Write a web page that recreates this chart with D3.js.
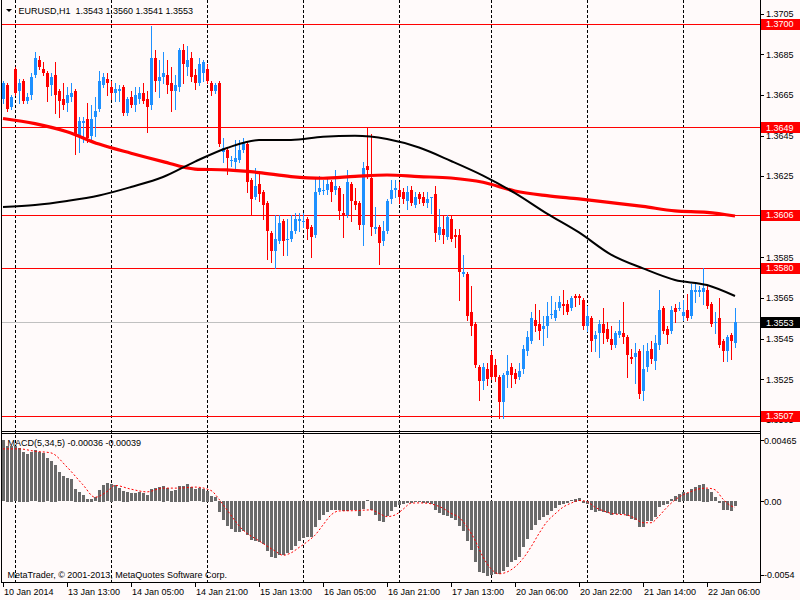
<!DOCTYPE html>
<html><head><meta charset="utf-8">
<script src="https://cdn.jsdelivr.net/npm/d3@7"></script>
<style>
html,body{margin:0;padding:0;background:#fffafa;}
svg{display:block;}
text{font-family:"Liberation Sans",Arial,sans-serif;font-size:9px;fill:#000;}
</style>
</head><body>
<svg id="c" width="800" height="600"></svg>
<script>
const headerText = "EURUSD,H1  1.3543 1.3560 1.3541 1.3553";
const macdHeader = "MACD(5,34,5) -0.00036 -0.00039";
const copyright = "MetaTrader, \u00a9 2001-2013, MetaQuotes Software Corp.";
const timeLabels = ["10 Jan 2014","13 Jan 13:00","14 Jan 05:00","14 Jan 21:00","15 Jan 13:00","16 Jan 05:00","16 Jan 21:00","17 Jan 13:00","20 Jan 06:00","20 Jan 22:00","21 Jan 14:00","22 Jan 06:00"];
const timeLabelIdx = [0,16,32,48,64,80,96,112,128,144,160,176];
const gridDayIdx = [3,27,51,75,99,122,146,170];
const priceTicks = [1.3705,1.3685,1.3665,1.3645,1.3625,1.3605,1.3585,1.3565,1.3545,1.3525,1.3505];
const levelLines = [1.3700,1.3649,1.3606,1.3580,1.3507];
const bidPrice = 1.3553;
const macdTicks = [0.00465,0.00,-0.0054];
const macdTickLabels = ["0.00465","0.00","-0.0054"];

const open = [1.3663,1.3670,1.3659,1.3678,1.3667,1.3672,1.3662,1.3665,1.3675,1.3682,
1.3678,1.3676,1.3670,1.3675,1.3667,1.3663,1.3661,1.3664,1.3667,1.3645,
1.3651,1.3653,1.3645,1.3654,1.3658,1.3670,1.3673,1.3669,1.3666,1.3667,
1.3669,1.3656,1.3664,1.3660,1.3663,1.3666,1.3663,1.3660,1.3683,1.3672,
1.3674,1.3675,1.3671,1.3667,1.3669,1.3687,1.3679,1.3683,1.3675,1.3671,
1.3676,1.3678,1.3671,1.3667,1.3671,1.3637,1.3638,1.3633,1.3632,1.3633,
1.3638,1.3641,1.3623,1.3615,1.3621,1.3617,1.3612,1.3597,1.3588,1.3593,
1.3603,1.3594,1.3594,1.3598,1.3603,1.3603,1.3604,1.3600,1.3596,1.3617,
1.3618,1.3618,1.3622,1.3618,1.3619,1.3607,1.3606,1.3621,1.3613,1.3612,
1.3601,1.3630,1.3624,1.3599,1.3600,1.3593,1.3598,1.3614,1.3618,1.3618,
1.3617,1.3613,1.3618,1.3611,1.3616,1.3615,1.3612,1.3615,1.3616,1.3596,
1.3599,1.3595,1.3604,1.3596,1.3596,1.3577,1.3577,1.3558,1.3552,1.3531,
1.3524,1.3530,1.3537,1.3532,1.3526,1.3514,1.3527,1.3531,1.3528,1.3526,
1.3530,1.3539,1.3544,1.3554,1.3552,1.3550,1.3551,1.3557,1.3555,1.3560,
1.3562,1.3562,1.3560,1.3566,1.3566,1.3564,1.3551,1.3555,1.3545,1.3548,
1.3552,1.3550,1.3545,1.3542,1.3547,1.3548,1.3546,1.3536,1.3536,1.3539,
1.3519,1.3531,1.3540,1.3534,1.3542,1.3560,1.3550,1.3549,1.3560,1.3560,
1.3556,1.3559,1.3556,1.3568,1.3568,1.3568,1.3569,1.3562,1.3553,1.3555,
1.3544,1.3539,1.3547,1.3543];
const high = [1.3672,1.3671,1.3665,1.3679,1.3673,1.3673,1.3666,1.3676,1.3686,1.3684,
1.3681,1.3677,1.3676,1.3681,1.3668,1.3671,1.3669,1.3671,1.3668,1.3654,
1.3654,1.3661,1.3660,1.3664,1.3677,1.3676,1.3676,1.3672,1.3671,1.3670,
1.3670,1.3664,1.3667,1.3669,1.3669,1.3671,1.3667,1.3699,1.3687,1.3682,
1.3686,1.3682,1.3679,1.3675,1.3688,1.3690,1.3689,1.3686,1.3678,1.3683,
1.3682,1.3680,1.3672,1.3671,1.3672,1.3644,1.3639,1.3635,1.3643,1.3643,
1.3644,1.3642,1.3624,1.3629,1.3627,1.3618,1.3613,1.3598,1.3606,1.3606,
1.3604,1.3604,1.3606,1.3607,1.3607,1.3607,1.3605,1.3601,1.3624,1.3625,
1.3623,1.3624,1.3623,1.3628,1.3620,1.3616,1.3628,1.3622,1.3619,1.3613,
1.3632,1.3649,1.3646,1.3610,1.3601,1.3603,1.3614,1.3623,1.3623,1.3622,
1.3619,1.3620,1.3620,1.3617,1.3617,1.3617,1.3617,1.3615,1.3620,1.3609,
1.3606,1.3606,1.3606,1.3599,1.3599,1.3586,1.3578,1.3571,1.3553,1.3532,
1.3533,1.3533,1.3539,1.3535,1.3527,1.3528,1.3537,1.3533,1.3530,1.3533,
1.3542,1.3549,1.3558,1.3562,1.3559,1.3556,1.3563,1.3566,1.3563,1.3566,
1.3569,1.3564,1.3566,1.3567,1.3567,1.3565,1.3561,1.3556,1.3549,1.3554,
1.3560,1.3553,1.3551,1.3549,1.3554,1.3563,1.3547,1.3540,1.3543,1.3540,
1.3542,1.3543,1.3544,1.3547,1.3569,1.3561,1.3551,1.3561,1.3562,1.3563,
1.3564,1.3567,1.3572,1.3572,1.3571,1.3580,1.3571,1.3563,1.3558,1.3565,
1.3545,1.3547,1.3548,1.3560];
const low = [1.3661,1.3657,1.3658,1.3665,1.3661,1.3661,1.3661,1.3663,1.3674,1.3678,
1.3675,1.3662,1.3665,1.3656,1.3654,1.3658,1.3657,1.3662,1.3636,1.3637,
1.3642,1.3642,1.3643,1.3645,1.3657,1.3669,1.3665,1.3663,1.3662,1.3662,
1.3655,1.3655,1.3659,1.3657,1.3661,1.3661,1.3647,1.3658,1.3667,1.3664,
1.3671,1.3666,1.3657,1.3658,1.3667,1.3671,1.3675,1.3672,1.3668,1.3670,
1.3672,1.3671,1.3665,1.3666,1.3640,1.3632,1.3626,1.3630,1.3628,1.3632,
1.3637,1.3617,1.3606,1.3614,1.3613,1.3604,1.3584,1.3583,1.3580,1.3592,
1.3586,1.3586,1.3593,1.3597,1.3598,1.3600,1.3594,1.3585,1.3595,1.3616,
1.3616,1.3616,1.3613,1.3616,1.3604,1.3595,1.3605,1.3603,1.3609,1.3599,
1.3591,1.3624,1.3596,1.3597,1.3582,1.3591,1.3597,1.3612,1.3615,1.3612,
1.3612,1.3609,1.3611,1.3610,1.3612,1.3611,1.3610,1.3607,1.3593,1.3594,
1.3592,1.3594,1.3593,1.3590,1.3564,1.3576,1.3554,1.3547,1.3531,1.3515,
1.3520,1.3522,1.3525,1.3524,1.3506,1.3506,1.3521,1.3521,1.3523,1.3525,
1.3528,1.3537,1.3543,1.3549,1.3545,1.3542,1.3546,1.3555,1.3554,1.3559,
1.3557,1.3557,1.3559,1.3561,1.3562,1.3550,1.3549,1.3539,1.3539,1.3536,
1.3543,1.3544,1.3540,1.3541,1.3546,1.3543,1.3526,1.3533,1.3523,1.3516,
1.3515,1.3529,1.3533,1.3530,1.3540,1.3548,1.3543,1.3548,1.3553,1.3559,
1.3554,1.3554,1.3555,1.3563,1.3566,1.3562,1.3560,1.3551,1.3548,1.3541,
1.3534,1.3534,1.3535,1.3541];
const close = [1.3671,1.3658,1.3664,1.3666,1.3671,1.3662,1.3664,1.3674,1.3683,1.3679,
1.3676,1.3669,1.3674,1.3665,1.3662,1.3660,1.3665,1.3666,1.3645,1.3652,
1.3652,1.3644,1.3653,1.3657,1.3672,1.3674,1.3671,1.3666,1.3668,1.3668,
1.3656,1.3663,1.3660,1.3665,1.3666,1.3662,1.3659,1.3683,1.3672,1.3674,
1.3676,1.3670,1.3667,1.3670,1.3687,1.3680,1.3682,1.3674,1.3671,1.3680,
1.3681,1.3672,1.3667,1.3670,1.3641,1.3639,1.3634,1.3633,1.3634,1.3638,
1.3642,1.3622,1.3614,1.3620,1.3616,1.3611,1.3598,1.3588,1.3594,1.3602,
1.3593,1.3594,1.3598,1.3604,1.3604,1.3603,1.3599,1.3595,1.3617,1.3619,
1.3618,1.3621,1.3617,1.3620,1.3608,1.3606,1.3622,1.3613,1.3611,1.3601,
1.3629,1.3628,1.3600,1.3600,1.3592,1.3598,1.3613,1.3618,1.3619,1.3615,
1.3614,1.3617,1.3612,1.3615,1.3614,1.3612,1.3614,1.3615,1.3597,1.3600,
1.3596,1.3605,1.3594,1.3595,1.3578,1.3578,1.3556,1.3551,1.3532,1.3524,
1.3531,1.3525,1.3526,1.3526,1.3514,1.3527,1.3529,1.3527,1.3525,1.3529,
1.3540,1.3546,1.3555,1.3551,1.3549,1.3551,1.3556,1.3557,1.3559,1.3563,
1.3561,1.3558,1.3565,1.3565,1.3565,1.3551,1.3556,1.3544,1.3547,1.3552,
1.3548,1.3545,1.3542,1.3548,1.3549,1.3546,1.3537,1.3535,1.3538,1.3518,
1.3530,1.3539,1.3535,1.3543,1.3559,1.3549,1.3547,1.3559,1.3558,1.3560,
1.3558,1.3555,1.3569,1.3569,1.3569,1.3570,1.3561,1.3552,1.3553,1.3542,
1.3539,1.3546,1.3544,1.3553];

const maIdx = [0,8,16,24,32,40,48,56,64,72,80,88,96,104,112,120,128,136,144,152,160,168,176,183];
const maSlow = [1.36534,1.36509,1.36469,1.36408,1.36363,1.36322,1.36285,1.36281,1.36268,1.36248,1.36240,1.36249,1.36256,1.36248,1.36241,1.36220,1.36177,1.36154,1.36138,1.36120,1.36101,1.36079,1.36072,1.36054];
const maFast = [1.36098,1.36108,1.36128,1.36155,1.36197,1.36246,1.36322,1.36389,1.36428,1.36428,1.36444,1.36449,1.36433,1.36391,1.36325,1.36253,1.36167,1.36066,1.35973,1.35864,1.35796,1.35739,1.35714,1.35660];

const macdMain = [0.00410,0.00374,0.00374,0.00370,0.00359,0.00332,0.00320,0.00329,0.00343,0.00334,
0.00325,0.00291,0.00273,0.00246,0.00194,0.00167,0.00156,0.00149,0.00084,0.00066,
0.00044,0.00019,0.00019,0.00028,0.00078,0.00111,0.00123,0.00118,0.00107,0.00089,
0.00073,0.00066,0.00055,0.00055,0.00060,0.00055,0.00042,0.00082,0.00089,0.00096,
0.00105,0.00089,0.00073,0.00078,0.00105,0.00105,0.00118,0.00096,0.00082,0.00087,
0.00084,0.00071,0.00037,0.00028,-0.00075,-0.00125,-0.00170,-0.00188,-0.00208,-0.00208,
-0.00199,-0.00226,-0.00260,-0.00271,-0.00278,-0.00287,-0.00338,-0.00377,-0.00383,-0.00361,
-0.00361,-0.00350,-0.00327,-0.00300,-0.00271,-0.00248,-0.00242,-0.00242,-0.00174,-0.00125,
-0.00091,-0.00071,-0.00062,-0.00057,-0.00062,-0.00069,-0.00069,-0.00062,-0.00057,-0.00098,
-0.00053,0.00008,-0.00062,-0.00091,-0.00136,-0.00143,-0.00102,-0.00069,-0.00042,-0.00025,
-0.00020,-0.00013,-0.00013,-0.00008,-0.00008,-0.00012,-0.00016,-0.00023,-0.00057,-0.00080,
-0.00096,-0.00098,-0.00114,-0.00125,-0.00170,-0.00199,-0.00271,-0.00327,-0.00406,-0.00473,
-0.00485,-0.00500,-0.00496,-0.00489,-0.00489,-0.00466,-0.00439,-0.00406,-0.00395,-0.00372,
-0.00309,-0.00255,-0.00192,-0.00158,-0.00129,-0.00107,-0.00091,-0.00069,-0.00046,-0.00030,
-0.00017,-0.00012,0.00010,0.00017,0.00021,-0.00012,-0.00017,-0.00057,-0.00071,-0.00069,
-0.00075,-0.00080,-0.00091,-0.00087,-0.00084,-0.00084,-0.00098,-0.00120,-0.00125,-0.00176,
-0.00174,-0.00136,-0.00136,-0.00107,-0.00039,-0.00028,-0.00019,0.00015,0.00033,0.00051,
0.00060,0.00055,0.00082,0.00096,0.00107,0.00118,0.00084,0.00060,0.00028,-0.00012,
-0.00057,-0.00062,-0.00069,-0.00036];

const signalIdx = [0,4,8,12,16,20,23,26,28,32,36,40,44,48,52,54,56,60,64,68,70,72,74,76,78,80,82,84,88,92,94,96,98,100,102,104,106,108,110,112,114,116,118,120,122,124,126,128,130,132,134,136,138,140,142,144,146,148,150,152,154,156,158,160,162,164,166,168,170,172,174,176,178,180,182,183];
const signalVal = [0.00352,0.00352,0.00336,0.00325,0.00230,0.00111,0.00028,0.00066,0.00107,0.00082,
0.00064,0.00089,0.00089,0.00096,0.00073,0.00015,-0.00057,-0.00192,-0.00264,-0.00332,
-0.00361,-0.00345,-0.00309,-0.00271,-0.00226,-0.00158,-0.00091,-0.00064,-0.00062,-0.00057,
-0.00080,-0.00102,-0.00091,-0.00053,-0.00012,-0.00010,-0.00012,-0.00024,-0.00046,-0.00080,
-0.00107,-0.00170,-0.00260,-0.00372,-0.00451,-0.00485,-0.00473,-0.00439,-0.00383,-0.00305,
-0.00215,-0.00136,-0.00084,-0.00039,-0.00012,0.00006,-0.00001,-0.00039,-0.00062,-0.00080,
-0.00087,-0.00091,-0.00114,-0.00143,-0.00143,-0.00098,-0.00039,0.00010,0.00044,0.00066,
0.00084,0.00089,0.00078,0.00015,-0.00030,-0.00039];

// ---------- drawing ----------
const svg = d3.select("#c");
const W = 800, H = 600, axisX = 760;
const BLUE = "#1e90ff", RED = "#ff0000";
const x = d3.scaleLinear().domain([0, 183]).range([3, 735]);
const y = d3.scaleLinear().domain([1.349955, 1.371175]).range([431, 0]);
const ym = d3.scaleLinear().domain([-0.0054, 0.00465]).range([582, 432]);
const px = v => Math.round(v) + 0.5;

svg.append("rect").attr("width", W).attr("height", H).attr("fill", "#fffafa");

// vertical day grid
svg.append("g").selectAll("line").data(gridDayIdx).join("line")
  .attr("x1", d => px(x(d))).attr("x2", d => px(x(d)))
  .attr("y1", 0).attr("y2", 582)
  .attr("stroke", "#000").attr("stroke-width", 1).attr("stroke-dasharray", "3,2");

// horizontal level lines
svg.append("g").selectAll("line").data(levelLines).join("line")
  .attr("x1", 1).attr("x2", axisX).attr("y1", d => px(y(d))).attr("y2", d => px(y(d)))
  .attr("stroke", RED).attr("stroke-width", 1);
svg.append("line").attr("x1", 1).attr("x2", axisX)
  .attr("y1", px(y(bidPrice))).attr("y2", px(y(bidPrice)))
  .attr("stroke", "#c0c0c0").attr("stroke-width", 1);

// candles
const idx = d3.range(open.length);
const cg = svg.append("g");
cg.selectAll("line").data(idx).join("line")
  .attr("x1", i => px(x(i))).attr("x2", i => px(x(i)))
  .attr("y1", i => Math.round(y(high[i]))).attr("y2", i => Math.round(y(low[i])) + 1)
  .attr("stroke", i => close[i] >= open[i] ? BLUE : RED).attr("stroke-width", 1);
cg.selectAll("rect").data(idx).join("rect")
  .attr("x", i => Math.round(x(i)) - 1).attr("width", 3)
  .attr("y", i => Math.round(y(Math.max(open[i], close[i]))))
  .attr("height", i => Math.max(1, Math.round(y(Math.min(open[i], close[i]))) - Math.round(y(Math.max(open[i], close[i])))))
  .attr("fill", i => close[i] >= open[i] ? BLUE : RED);

// moving averages
const maLine = vals => d3.line().x((d, k) => x(maIdx[k])).y(d => y(d)).curve(d3.curveMonotoneX)(vals);
svg.append("path").attr("d", maLine(maSlow)).attr("fill", "none").attr("stroke", RED).attr("stroke-width", 3.2);
svg.append("path").attr("d", maLine(maFast)).attr("fill", "none").attr("stroke", "#000").attr("stroke-width", 2);

// MACD histogram
svg.append("g").selectAll("rect").data(idx).join("rect")
  .attr("x", i => Math.round(x(i)) - 1).attr("width", 3)
  .attr("y", i => Math.round(Math.min(ym(macdMain[i]), ym(0))))
  .attr("height", i => Math.max(1, Math.round(Math.abs(ym(macdMain[i]) - ym(0)))))
  .attr("fill", "#6a6a6a");
// signal
const sig = d3.line().x((d, k) => x(signalIdx[k])).y(d => ym(d)).curve(d3.curveMonotoneX)(signalVal);
svg.append("path").attr("d", sig).attr("fill", "none").attr("stroke", RED).attr("stroke-width", 1).attr("stroke-dasharray", "2,2");

// frame
const frame = svg.append("g").attr("stroke", "#000").attr("stroke-width", 1);
frame.append("line").attr("x1", 1.5).attr("x2", 1.5).attr("y1", 0).attr("y2", 583);
frame.append("line").attr("x1", axisX + 0.5).attr("x2", axisX + 0.5).attr("y1", 0).attr("y2", 583);
frame.append("line").attr("x1", 1).attr("x2", axisX + 1).attr("y1", 431.5).attr("y2", 431.5);
frame.append("line").attr("x1", 1).attr("x2", axisX + 1).attr("y1", 433.5).attr("y2", 433.5);
frame.append("line").attr("x1", 1).attr("x2", axisX + 1).attr("y1", 582.5).attr("y2", 582.5);

// price axis
svg.append("g").selectAll("line").data(priceTicks).join("line")
  .attr("x1", axisX).attr("x2", axisX + 4).attr("y1", d => px(y(d))).attr("y2", d => px(y(d)))
  .attr("stroke", "#000");
svg.append("g").selectAll("text").data(priceTicks).join("text")
  .attr("x", 766).attr("y", d => y(d) + 3.3).text(d => d.toFixed(4));

// level boxes
const boxes = levelLines.map(v => ({v, fill: RED})).concat([{v: bidPrice, fill: "#000"}]);
const bg = svg.append("g").selectAll("g").data(boxes).join("g");
bg.append("rect").attr("x", axisX + 1).attr("width", W - axisX - 1)
  .attr("y", d => Math.round(y(d.v)) - 5).attr("height", 11).attr("fill", d => d.fill);
bg.append("text").attr("x", 766).attr("y", d => y(d.v) + 3.3).style("fill", "#fff").text(d => d.v.toFixed(4));

// MACD axis
svg.append("g").selectAll("line").data(macdTicks).join("line")
  .attr("x1", axisX).attr("x2", axisX + 4)
  .attr("y1", (d, k) => k === 0 ? 440.5 : (k === 2 ? 575.5 : px(ym(d))))
  .attr("y2", (d, k) => k === 0 ? 440.5 : (k === 2 ? 575.5 : px(ym(d))))
  .attr("stroke", "#000");
svg.append("g").selectAll("text").data(macdTicks).join("text")
  .attr("x", 764)
  .attr("y", (d, k) => (k === 0 ? 440.7 : (k === 2 ? 575 : ym(d))) + 3.3)
  .text((d, k) => macdTickLabels[k]);

// time axis
svg.append("g").selectAll("line").data(timeLabelIdx).join("line")
  .attr("x1", d => px(x(d))).attr("x2", d => px(x(d))).attr("y1", 583).attr("y2", 587)
  .attr("stroke", "#000");
svg.append("g").selectAll("text").data(timeLabelIdx).join("text")
  .attr("x", d => Math.round(x(d)) + 1).attr("y", 595).text((d, k) => timeLabels[k]);

// header texts
svg.append("path").attr("d", "M6,9L12,9L9,12Z").attr("fill", "#000");
svg.append("text").attr("x", 18.5).attr("y", 13.5).style("white-space", "pre").text(headerText);
svg.append("text").attr("x", 7.5).attr("y", 446).text(macdHeader);
svg.append("text").attr("x", 7.5).attr("y", 578).text(copyright);
</script>
</body></html>
